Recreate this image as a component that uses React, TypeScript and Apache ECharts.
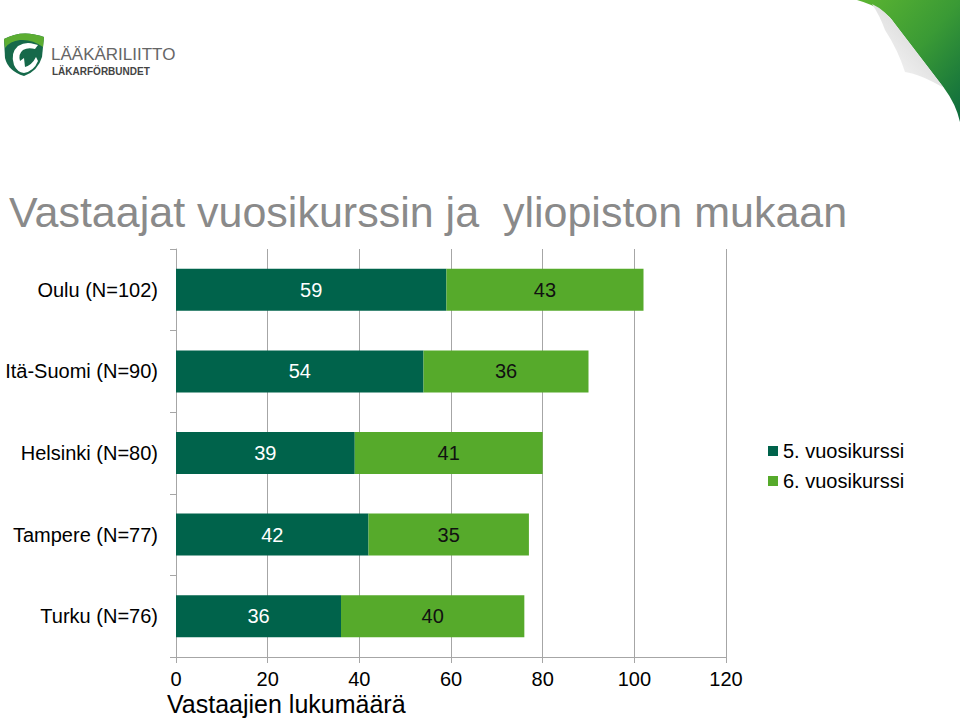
import React, { useEffect, useRef } from "react";
import * as echarts from "echarts";

const categories = ["Oulu (N=102)", "Itä-Suomi (N=90)", "Helsinki (N=80)", "Tampere (N=77)", "Turku (N=76)"];
const year5 = [59, 54, 39, 42, 36];
const year6 = [43, 36, 41, 35, 40];
const seriesNames = ["5. vuosikurssi", "6. vuosikurssi"];
const xTicks = { min: 0, max: 120, interval: 20 };
const titleText = "Vastaajat vuosikurssin ja  yliopiston mukaan";
const axisName = "Vastaajien lukumäärä";

const DARK = "#00634B";
const LIGHT = "#56AA2B";
const FONT = "'Liberation Sans', Arial, sans-serif";

let registered = false;
function registerShapes() {
  if (registered) return;
  registered = true;
  echarts.graphic.registerShape(
    "shieldBody",
    echarts.graphic.extendPath("M2,8 Q20,-2 42,6 L40,26 Q36,40 22,45 Q6,40 3,27 Z", {})
  );
  echarts.graphic.registerShape(
    "shieldTop",
    echarts.graphic.extendPath("M2,8 Q20,-2 42,6 L41,16 Q30,8 18,9 Q8,10 3,17 Z", {})
  );
  echarts.graphic.registerShape(
    "shieldSwoosh",
    echarts.graphic.extendPath(
      "M12,34 Q8,22 16,15 Q24,10 32,13 L36,14 L33,18 Q26,16 21,19 Q16,23 18,30 L22,27 L23,36 Q30,34 34,26 L36,30 Q32,40 22,42 Q15,41 12,34 Z",
      {}
    )
  );
  echarts.graphic.registerShape(
    "curl",
    echarts.graphic.extendPath("M857,0 L960,0 L960,122 Q956,104 944,88 L895,24 Q885,8 857,0 Z", {})
  );
  echarts.graphic.registerShape(
    "curlShadow",
    echarts.graphic.extendPath("M872,4 Q885,10 895,24 L944,88 Q920,74 905,72 Q898,50 885,30 Q880,16 872,4 Z", {})
  );
}

export default function App() {
  const ref = useRef<HTMLDivElement>(null);
  useEffect(() => {
    if (!ref.current) return;
    registerShapes();
    const chart = echarts.init(ref.current, undefined, { renderer: "svg" });
    chart.setOption({
      animation: false,
      backgroundColor: "#ffffff",
      title: {
        text: titleText,
        left: 4,
        top: 185,
        textStyle: { fontFamily: FONT, fontSize: 43, fontWeight: "normal", color: "#8a8a8a" },
      },
      legend: {
        orient: "vertical",
        left: 763,
        top: 436,
        itemWidth: 10,
        itemHeight: 10,
        itemGap: 10,
        icon: "rect",
        data: seriesNames,
        textStyle: { fontFamily: FONT, fontSize: 20, color: "#000" },
      },
      grid: { left: 176, right: 234, top: 249, bottom: 62, containLabel: false },
      xAxis: {
        type: "value",
        min: xTicks.min,
        max: xTicks.max,
        interval: xTicks.interval,
        axisLine: { show: true, lineStyle: { color: "#a6a6a6", width: 1 } },
        axisTick: { show: true, length: 6, lineStyle: { color: "#a6a6a6" } },
        splitLine: { show: true, lineStyle: { color: "#a6a6a6", width: 1 } },
        axisLabel: { fontFamily: FONT, fontSize: 20, color: "#000", margin: 12 },
      },
      yAxis: {
        type: "category",
        inverse: true,
        data: categories,
        axisLine: { show: true, lineStyle: { color: "#a6a6a6", width: 1 } },
        axisTick: { show: true, length: 6, lineStyle: { color: "#a6a6a6" } },
        axisLabel: { fontFamily: FONT, fontSize: 20, color: "#000", margin: 18 },
      },
      series: [
        {
          name: seriesNames[0],
          type: "bar",
          stack: "total",
          barWidth: 42,
          data: year5,
          itemStyle: { color: DARK },
          label: { show: true, position: "inside", fontFamily: FONT, fontSize: 20, color: "#ffffff" },
        },
        {
          name: seriesNames[1],
          type: "bar",
          stack: "total",
          barWidth: 42,
          data: year6,
          itemStyle: { color: LIGHT },
          label: { show: true, position: "inside", fontFamily: FONT, fontSize: 20, color: "#111111" },
        },
      ],
      graphic: [
        {
          type: "text",
          left: 167,
          top: 691,
          style: { text: axisName, fontFamily: FONT, fontSize: 25, fill: "#000" },
        },
        {
          type: "curl",
          shape: {},
          style: {
            fill: new echarts.graphic.LinearGradient(0, 0, 1, 1, [
              { offset: 0, color: "#5cb531" },
              { offset: 0.5, color: "#3a9a35" },
              { offset: 1, color: "#0c6a3e" },
            ]),
          },
        },
        {
          type: "curlShadow",
          shape: {},
          style: {
            fill: new echarts.graphic.LinearGradient(1, 0, 0, 1, [
              { offset: 0, color: "#c9c9c9" },
              { offset: 1, color: "#ffffff" },
            ]),
          },
        },
        {
          type: "group",
          x: 2,
          y: 31,
          children: [
            { type: "shieldBody", shape: {}, style: { fill: "#16694a" } },
            { type: "shieldTop", shape: {}, style: { fill: "#5cad32" } },
            { type: "shieldSwoosh", shape: {}, style: { fill: "#ffffff" } },
          ],
        },
        {
          type: "text",
          left: 51,
          top: 46,
          style: { text: "LÄÄKÄRILIITTO", fontFamily: FONT, fontSize: 17, fill: "#666666" },
        },
        {
          type: "text",
          left: 52,
          top: 66,
          style: { text: "LÄKARFÖRBUNDET", fontFamily: FONT, fontSize: 10, fontWeight: "bold", fill: "#444444" },
        },
      ],
    });
    return () => chart.dispose();
  }, []);
  return <div ref={ref} style={{ width: 960, height: 719, position: "fixed", left: 0, top: 0 }} />;
}
